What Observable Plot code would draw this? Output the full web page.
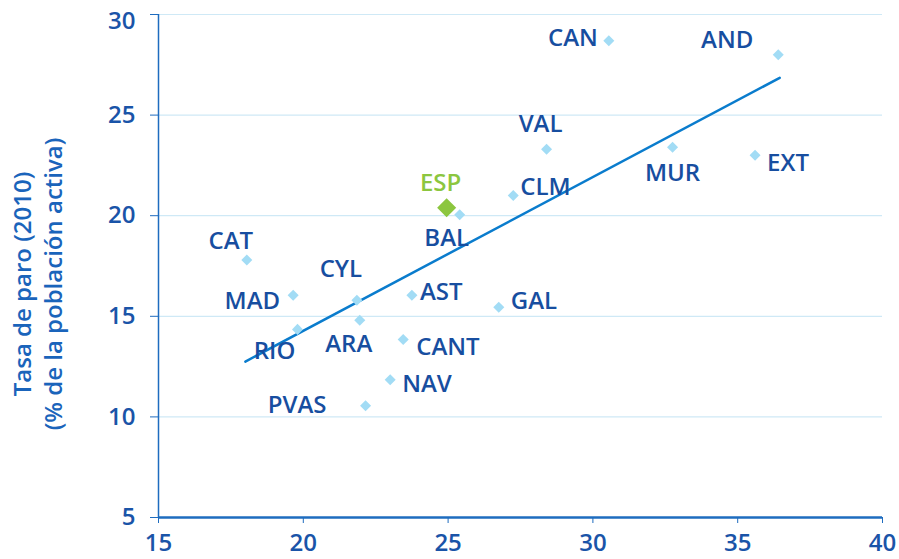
<!DOCTYPE html>
<html>
<head>
<meta charset="utf-8">
<script src="https://cdn.jsdelivr.net/npm/d3@7"></script>
<script src="https://cdn.jsdelivr.net/npm/@observablehq/plot@0.6"></script>
<style>
  body { margin: 0; background: #fff; }
  #chart svg { display: block; }
</style>
</head>
<body>
<div id="chart"></div>
<script>
// Data: regions, x value, y value (Tasa de paro 2010)
const regions = ["CAN","AND","VAL","MUR","EXT","CLM","BAL","CAT","MAD","CYL","AST","GAL","ARA","RIO","CANT","NAV","PVAS"];
const xValues = [30.55, 36.4, 28.4, 32.75, 35.6, 27.25, 25.4, 18.05, 19.65, 21.85, 23.75, 26.75, 21.95, 19.8, 23.45, 23.0, 22.15];
const yValues = [28.7, 28.0, 23.3, 23.4, 23.0, 21.0, 20.05, 17.8, 16.05, 15.8, 16.05, 15.45, 14.8, 14.35, 13.85, 11.85, 10.55];
const spainLabel = ["ESP"];
const spainX = [24.95];
const spainY = [20.4];
const trendX = [18.0, 36.45];
const trendY = [12.75, 26.85];
const xTicks = [15, 20, 25, 30, 35, 40];
const yTicks = [5, 10, 15, 20, 25, 30];
const yLabel = "Tasa de paro (2010)\n(% de la población activa)";

// Label placement (style, kept apart from data): [dx, dy, textAnchor]
const labelPlacement = {
  CAN: [-11, -2, "end"], AND: [-51, -14, "middle"], VAL: [-6, -25, "middle"],
  MUR: [0, 26, "middle"], EXT: [12, 8, "start"], CLM: [7, -8, "start"],
  BAL: [-13, 24, "middle"], CAT: [-16, -19, "middle"], MAD: [-13, 6, "end"],
  CYL: [-16, -31, "middle"], AST: [8, -3, "start"], GAL: [12, -6, "start"],
  ARA: [-11, 24, "middle"], RIO: [-23, 22, "middle"], CANT: [13, 8, "start"],
  NAV: [12, 5, "start"], PVAS: [-39, -1, "end"]
};

const pts = regions.map((r, i) => ({label: r, x: xValues[i], y: yValues[i]}));
const esp = spainLabel.map((r, i) => ({label: r, x: spainX[i], y: spainY[i]}));
const trend = trendX.map((x, i) => ({x, y: trendY[i]}));

const FONT = "'Open Sans', sans-serif";
const labelColor = "#174ea0";
const tickColor = "#1a54a8";
const axisColor = "#1e6cbf";
const W = 600;

const labelMarks = pts.map(p => {
  const [dx, dy, anchor] = labelPlacement[p.label];
  return Plot.text([p], {x: "x", y: "y", text: "label", dx, dy, textAnchor: anchor,
    fill: labelColor, fontSize: 24, fontWeight: W, fontFamily: FONT});
});

const topTick = yTicks[yTicks.length - 1];

const chart = Plot.plot({
  width: 899,
  height: 559,
  marginLeft: 158,
  marginRight: 17,
  marginTop: 14,
  marginBottom: 42,
  style: {fontFamily: FONT, background: "#fff"},
  x: {domain: [15, 40]},
  y: {domain: [5, 30]},
  marks: [
    Plot.ruleY(yTicks.filter(t => t > 5), {stroke: "#cfe9f6", strokeWidth: 1.2}),
    Plot.axisY({ticks: yTicks, tickSize: 8, tickPadding: 15, stroke: axisColor, fill: tickColor,
      tickFormat: d => d === topTick ? "" : String(d),
      fontSize: 24, fontWeight: W, label: null, fontFamily: FONT}),
    Plot.text([topTick], {y: d => d, text: d => String(d), frameAnchor: "left", dx: -23, dy: 7,
      textAnchor: "end", fill: tickColor, fontSize: 24, fontWeight: W, fontFamily: FONT}),
    Plot.axisX({ticks: xTicks, tickSize: 6, tickPadding: 10, stroke: axisColor, fill: tickColor,
      fontSize: 24, fontWeight: W, label: null, fontFamily: FONT}),
    Plot.ruleX([15], {stroke: axisColor, strokeWidth: 1.5}),
    Plot.ruleY([5], {stroke: axisColor, strokeWidth: 2.5}),
    Plot.text([yLabel], {frameAnchor: "left", rotate: -90, dx: -122, dy: 18, textAnchor: "middle",
      lineAnchor: "middle", fill: "#1a64bb", fontSize: 24, fontWeight: W, fontFamily: FONT, lineHeight: 1.3}),
    Plot.line(trend, {x: "x", y: "y", stroke: "#0a7ccd", strokeWidth: 2.5}),
    Plot.dot(pts, {x: "x", y: "y", symbol: "square", rotate: 45, r: 4.4, fill: "#a2dcf5", stroke: "none"}),
    Plot.dot(esp, {x: "x", y: "y", symbol: "square", rotate: 45, r: 7.6, fill: "#8cc63f", stroke: "none"}),
    Plot.text(esp, {x: "x", y: "y", text: "label", dx: -6, dy: -24, fill: "#8cc63f", fontSize: 24, fontWeight: W, fontFamily: FONT}),
    ...labelMarks
  ]
});
document.getElementById("chart").appendChild(chart);
</script>
</body>
</html>
